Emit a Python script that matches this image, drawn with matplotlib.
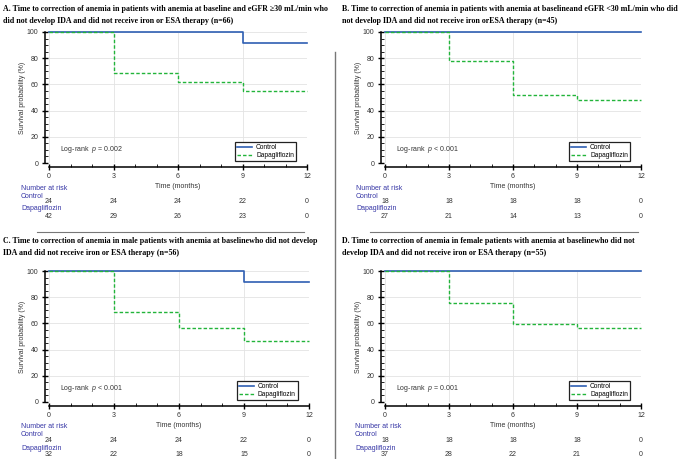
import matplotlib
matplotlib.use("Agg")
import matplotlib.pyplot as plt
import matplotlib.transforms as mtransforms
from matplotlib.lines import Line2D

plt.rcParams["font.family"] = ["Liberation Sans", "DejaVu Sans"]
plt.rcParams["mathtext.fontset"] = "custom"
plt.rcParams["mathtext.it"] = "Liberation Sans:italic"
plt.rcParams["mathtext.rm"] = "Liberation Sans"

# Data: survival (%) at time points 0, 3, 6, 9, 12 months
times = [0, 3, 6, 9, 12]

titles = [
    "A. Time to correction of anemia in patients with anemia at baseline and eGFR \u226530 mL/min who\n"
    "did not develop IDA and did not receive iron or ESA therapy (n=66)",
    "B. Time to correction of anemia in patients with anemia at baselineand eGFR <30 mL/min who did\n"
    "not develop IDA and did not receive iron orESA therapy (n=45)",
    "C. Time to correction of anemia in male patients with anemia at baselinewho did not develop\n"
    "IDA and did not receive iron or ESA therapy (n=56)",
    "D. Time to correction of anemia in female patients with anemia at baselinewho did not\n"
    "develop IDA and did not receive iron or ESA therapy (n=55)",
]

control_surv = [
    [100, 100, 100, 91.7, 91.7],
    [100, 100, 100, 100, 100],
    [100, 100, 100, 91.7, 91.7],
    [100, 100, 100, 100, 100],
]
dapa_surv = [
    [100, 69.0, 61.9, 54.8, 54.8],
    [100, 77.8, 51.9, 48.1, 48.1],
    [100, 68.8, 56.3, 46.9, 46.9],
    [100, 75.7, 59.5, 56.8, 56.8],
]

control_risk = [
    [24, 24, 24, 22, 0],
    [18, 18, 18, 18, 0],
    [24, 24, 24, 22, 0],
    [18, 18, 18, 18, 0],
]
dapa_risk = [
    [42, 29, 26, 23, 0],
    [27, 21, 14, 13, 0],
    [32, 22, 18, 15, 0],
    [37, 28, 22, 21, 0],
]

pvals = ["= 0.002", "< 0.001", "< 0.001", "= 0.001"]

W, H = 685, 459
blue = "#2f5fb3"
green = "#22b43a"
navy = "#3535a5"

fig = plt.figure(figsize=(W / 100, H / 100), dpi=100)

# panel axes in pixels: left, right, y of 100, y of 0
boxes = [
    (49, 307, 32, 163),
    (385, 641, 32, 163),
    (49, 309, 271, 402),
    (385, 641, 271, 402),
]
title_pos = [(3, 5), (342, 5), (3, 237), (342, 237)]
risk_left = [21, 356, 21, 355]

for i in range(4):
    l, r, t, b = boxes[i]
    ax = fig.add_axes([l / W, 1 - b / H, (r - l) / W, (b - t) / H])
    ax.set_xlim(0, 12)
    ax.set_ylim(0, 100)

    ax.step(times, control_surv[i], where="post", color=blue, lw=1.2,
            clip_on=False, zorder=3, label="Control")
    ax.step(times, dapa_surv[i], where="post", color=green, lw=1.0,
            ls=(0, (2.5, 1.5)), clip_on=False, zorder=4, label="Dapagliflozin")

    for s in ["top", "right"]:
        ax.spines[s].set_visible(False)
    for s in ["left", "bottom"]:
        ax.spines[s].set_position(("outward", 3))
        ax.spines[s].set_linewidth(1.1)
    ax.spines["left"].set_bounds(0, 100)
    ax.spines["bottom"].set_bounds(0, 12)

    ax.set_xticks([0, 3, 6, 9, 12])
    ax.set_xticks(range(13), minor=True)
    ax.set_yticks([0, 20, 40, 60, 80, 100])
    ax.set_yticks(range(0, 101, 5), minor=True)
    ax.tick_params(which="major", direction="inout", length=5, width=1.0,
                   labelsize=5, pad=2, colors="black", labelcolor="#333333")
    ax.tick_params(which="minor", direction="in", length=2, width=0.6)
    ax.grid(which="major", color="#e3e3e3", lw=0.6)
    ax.set_axisbelow(True)

    ax.set_xlabel("Time (months)", fontsize=5, labelpad=2, color="#333333")
    ax.set_ylabel("Survival probability (%)", fontsize=5, labelpad=1, color="#333333")

    ax.text(0.5, 10, "Log-rank  $\\it{p}$ " + pvals[i], fontsize=5, va="center",
            color="#333333")

    leg = ax.legend(loc="lower right", bbox_to_anchor=(0.97, -0.01), fontsize=4.8,
                    frameon=True, fancybox=False, edgecolor="#222222",
                    framealpha=1, borderpad=0.3, handlelength=2.2,
                    labelspacing=0.15, handletextpad=0.6)
    leg.get_frame().set_linewidth(0.9)

    # number at risk table
    tr = mtransforms.blended_transform_factory(ax.transData, fig.transFigure)
    fig.text(risk_left[i] / W, 1 - (b + 25) / H, "Number at risk", fontsize=5,
             color=navy, va="center")
    fig.text(risk_left[i] / W, 1 - (b + 33) / H, "Control", fontsize=5,
             color=navy, va="center")
    fig.text(risk_left[i] / W, 1 - (b + 46) / H, "Dapagliflozin", fontsize=5,
             color=navy, va="center")
    for x, c, d in zip(times, control_risk[i], dapa_risk[i]):
        ax.text(x, 1 - (b + 39) / H, str(c), transform=tr, fontsize=5,
                ha="center", va="center", color="#333333")
        ax.text(x, 1 - (b + 53) / H, str(d), transform=tr, fontsize=5,
                ha="center", va="center", color="#333333")

    tx, ty = title_pos[i]
    fig.text(tx / W, 1 - ty / H, titles[i], fontsize=5.7, fontweight="bold",
             family="Liberation Serif", va="top", ha="left", linespacing=1.7)

# divider lines
fig.add_artist(Line2D([335 / W, 335 / W], [1 - 52 / H, 0], color="#777777", lw=1.0))
fig.add_artist(Line2D([37 / W, 304 / W], [1 - 232 / H, 1 - 232 / H], color="#777777", lw=0.8))
fig.add_artist(Line2D([370 / W, 638 / W], [1 - 232 / H, 1 - 232 / H], color="#777777", lw=0.8))

fig.savefig("out.png", dpi=100)
